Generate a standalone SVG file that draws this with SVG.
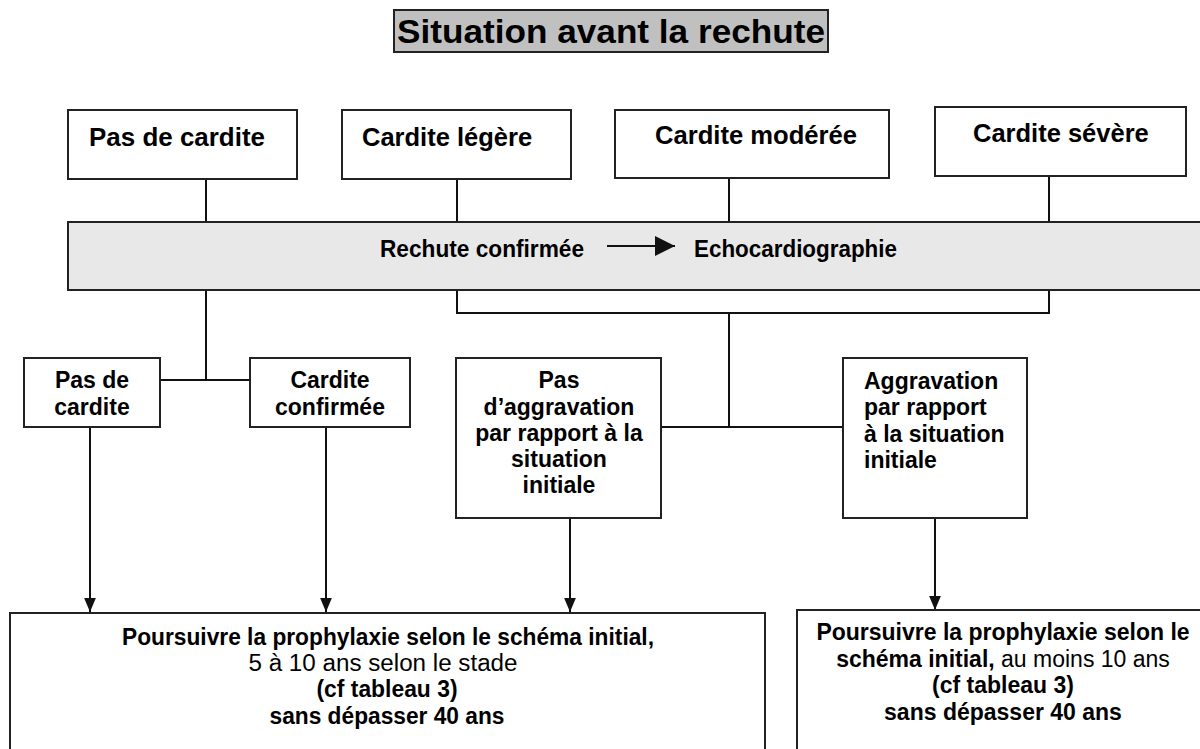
<svg xmlns="http://www.w3.org/2000/svg" width="1200" height="749" viewBox="0 0 1200 749">
<style>
.box{fill:#fff;stroke:#222;stroke-width:2}
.t{font-family:"Liberation Sans",Arial,sans-serif;font-size:23px;font-weight:bold;fill:#000}
.big{font-size:25.5px}
.n{font-weight:normal}
.c{text-anchor:middle}
.ln{stroke:#111;stroke-width:2;fill:none}
</style>
<defs>
<marker id="ah2" viewBox="0 0 10 10" refX="10" refY="5" markerWidth="14" markerHeight="14" markerUnits="userSpaceOnUse" orient="auto">
<path d="M0,0.8 L10,5 L0,9.2 z" fill="#111"/>
</marker>
<marker id="ah3" viewBox="0 0 10 10" refX="10" refY="5" markerWidth="20" markerHeight="20" markerUnits="userSpaceOnUse" orient="auto">
<path d="M0,0 L10,5 L0,10 z" fill="#111"/>
</marker>
</defs>
<rect width="1200" height="749" fill="#fff"/>
<g id="title">
<rect x="394" y="10" width="434" height="42" fill="#c0c0c0" stroke="#222" stroke-width="2"/>
<text class="t" x="611" y="43" text-anchor="middle" style="font-size:33px" textLength="428" lengthAdjust="spacingAndGlyphs">Situation avant la rechute</text>
</g>
<g id="connectors">
<line class="ln" x1="206" y1="179" x2="206" y2="222"/>
<line class="ln" x1="457" y1="179" x2="457" y2="222"/>
<line class="ln" x1="729" y1="178" x2="729" y2="222"/>
<line class="ln" x1="1049" y1="176" x2="1049" y2="222"/>
<line class="ln" x1="206" y1="290" x2="206" y2="380"/>
<line class="ln" x1="160" y1="380" x2="250" y2="380"/>
<polyline class="ln" points="457,290 457,313 1049,313 1049,290"/>
<line class="ln" x1="729" y1="313" x2="729" y2="427"/>
<line class="ln" x1="661" y1="427" x2="843" y2="427"/>
<line class="ln" x1="90" y1="427" x2="90" y2="612" marker-end="url(#ah2)"/>
<line class="ln" x1="326" y1="427" x2="326" y2="612" marker-end="url(#ah2)"/>
<line class="ln" x1="570" y1="518" x2="570" y2="612" marker-end="url(#ah2)"/>
<line class="ln" x1="935" y1="518" x2="935" y2="610" marker-end="url(#ah2)"/>
</g>
<g id="n1"><rect class="box" x="68" y="110" width="229" height="69"/><text class="t big" x="89" y="146" textLength="176" lengthAdjust="spacingAndGlyphs">Pas de cardite</text></g>
<g id="n2"><rect class="box" x="342" y="110" width="229" height="69"/><text class="t big" x="362" y="146">Cardite légère</text></g>
<g id="n3"><rect class="box" x="615" y="110" width="274" height="68"/><text class="t big c" x="756" y="144" textLength="202" lengthAdjust="spacingAndGlyphs">Cardite modérée</text></g>
<g id="n4"><rect class="box" x="935" y="107" width="251" height="69"/><text class="t big" x="973" y="142">Cardite sévère</text></g>
<g id="gray">
<rect x="68" y="222" width="1140" height="68" fill="#e8e8e8" stroke="#222" stroke-width="2"/>
<text class="t" x="380" y="257" textLength="204" lengthAdjust="spacingAndGlyphs">Rechute confirmée</text>
<line class="ln" x1="607" y1="246" x2="675" y2="246" marker-end="url(#ah3)"/>
<text class="t" x="694" y="257" textLength="203" lengthAdjust="spacingAndGlyphs">Echocardiographie</text>
</g>
<g id="n5"><rect class="box" x="24" y="358" width="136" height="69"/>
<text class="t c" x="92" y="388">Pas de</text><text class="t c" x="92" y="415">cardite</text></g>
<g id="n6"><rect class="box" x="250" y="358" width="160" height="69"/>
<text class="t c" x="330" y="388">Cardite</text><text class="t c" x="330" y="415">confirmée</text></g>
<g id="n7"><rect class="box" x="456" y="358" width="205" height="160"/>
<text class="t c" x="559" y="388">Pas</text>
<text class="t c" x="559" y="415">d’aggravation</text>
<text class="t c" x="559" y="441">par rapport à la</text>
<text class="t c" x="559" y="467">situation</text>
<text class="t c" x="559" y="493">initiale</text></g>
<g id="n8"><rect class="box" x="843" y="358" width="184" height="160"/>
<text class="t" x="864" y="389">Aggravation</text>
<text class="t" x="864" y="415">par rapport</text>
<text class="t" x="864" y="442">à la situation</text>
<text class="t" x="864" y="468">initiale</text></g>
<g id="n9"><rect class="box" x="10" y="613" width="755" height="150"/>
<text class="t c" x="388" y="645" textLength="532" lengthAdjust="spacingAndGlyphs">Poursuivre la prophylaxie selon le schéma initial,</text>
<text class="t c n" x="383" y="671" textLength="269" lengthAdjust="spacingAndGlyphs">5 à 10 ans selon le stade</text>
<text class="t c" x="387" y="697" textLength="141" lengthAdjust="spacingAndGlyphs">(cf tableau 3)</text>
<text class="t c" x="387" y="724" textLength="235" lengthAdjust="spacingAndGlyphs">sans dépasser 40 ans</text></g>
<g id="n10"><rect class="box" x="797" y="610" width="420" height="150"/>
<text class="t c" x="1003" y="640">Poursuivre la prophylaxie selon le</text>
<text class="t c" x="1003" y="667">schéma initial,<tspan class="n"> au moins 10 ans</tspan></text>
<text class="t c" x="1003" y="693">(cf tableau 3)</text>
<text class="t c" x="1003" y="720">sans dépasser 40 ans</text></g>
</svg>
